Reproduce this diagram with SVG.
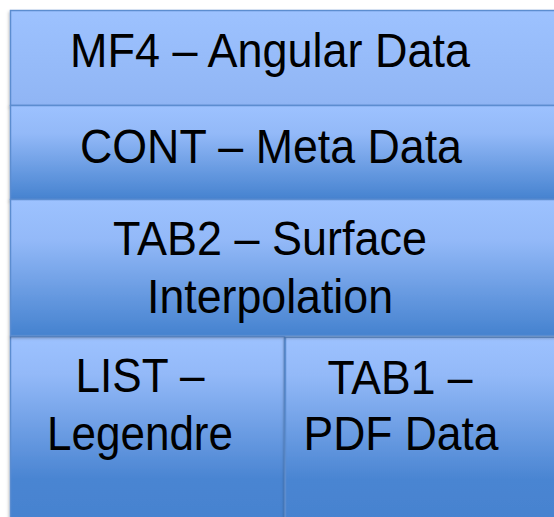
<svg xmlns="http://www.w3.org/2000/svg" width="554" height="517" viewBox="0 0 554 517">
  <defs>
    <linearGradient id="gFlat" x1="0" y1="0" x2="0" y2="1">
      <stop offset="0" stop-color="#9dc2ff"/>
      <stop offset="1" stop-color="#90b5f4"/>
    </linearGradient>
    <linearGradient id="gBlue" x1="0" y1="0" x2="0" y2="1">
      <stop offset="0" stop-color="#9dc2ff"/>
      <stop offset="0.3" stop-color="#93b9f8"/>
      <stop offset="1" stop-color="#4582cf"/>
    </linearGradient>
    <linearGradient id="gTall" x1="0" y1="0" x2="0" y2="1">
      <stop offset="0" stop-color="#9dc2ff"/>
      <stop offset="0.2" stop-color="#93b9f8"/>
      <stop offset="0.75" stop-color="#4a85d2"/>
      <stop offset="1" stop-color="#4582cf"/>
    </linearGradient>
    <filter id="sh" x="-5%" y="-5%" width="110%" height="115%">
      <feDropShadow dx="-1" dy="2" stdDeviation="1.5" flood-color="#000" flood-opacity="0.25"/>
    </filter>
  </defs>
  <style>
    .box { stroke: #5b8dd0; stroke-width: 1.5; filter: url(#sh); }
    .lbl { font-family: "Liberation Sans", Arial, sans-serif; font-size: 48px; fill: #000; text-anchor: middle; }
  </style>
  <rect width="554" height="517" fill="#ffffff"/>
  <g id="mf4">
    <rect class="box" x="10.5" y="10.5" width="560" height="95" fill="url(#gFlat)"/>
    <text class="lbl" x="270" y="67" textLength="400" lengthAdjust="spacingAndGlyphs">MF4 – Angular Data</text>
  </g>
  <g id="cont">
    <rect class="box" x="10.5" y="105.5" width="560" height="94" fill="url(#gBlue)"/>
    <text class="lbl" x="271" y="163" textLength="382" lengthAdjust="spacingAndGlyphs">CONT – Meta Data</text>
  </g>
  <g id="list">
    <rect class="box" x="10.5" y="336.5" width="274" height="190" fill="url(#gTall)"/>
    <text class="lbl" x="140" y="392" textLength="129" lengthAdjust="spacingAndGlyphs">LIST –</text>
    <text class="lbl" x="140" y="450" textLength="186" lengthAdjust="spacingAndGlyphs">Legendre</text>
  </g>
  <g id="tab1">
    <rect class="box" x="285.5" y="337" width="290" height="190" fill="url(#gTall)"/>
    <text class="lbl" x="400" y="394" textLength="145" lengthAdjust="spacingAndGlyphs">TAB1 –</text>
    <text class="lbl" x="401" y="450" textLength="195" lengthAdjust="spacingAndGlyphs">PDF Data</text>
  </g>
  <g id="tab2">
    <rect class="box" x="10.5" y="199.5" width="560" height="136" fill="url(#gBlue)"/>
    <text class="lbl" x="270" y="255" textLength="314" lengthAdjust="spacingAndGlyphs">TAB2 – Surface</text>
    <text class="lbl" x="270" y="313" textLength="246" lengthAdjust="spacingAndGlyphs">Interpolation</text>
  </g>
  <g id="connectors"/>
</svg>
